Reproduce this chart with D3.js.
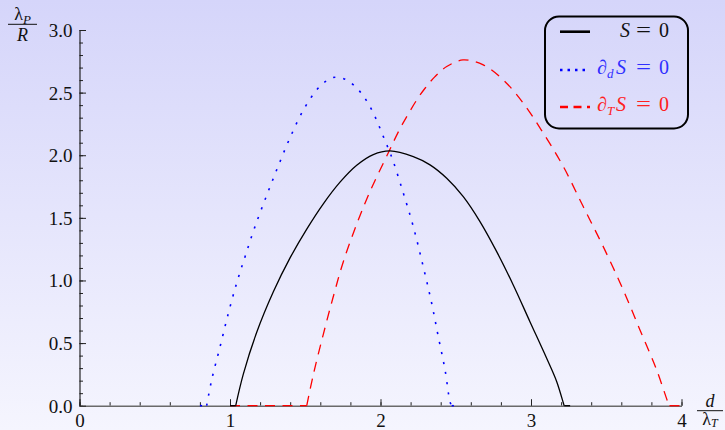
<!DOCTYPE html>
<html>
<head>
<meta charset="utf-8">
<script src="https://cdn.jsdelivr.net/npm/d3@7"></script>
<style>
  html, body { margin: 0; padding: 0; background: #ffffff; }
  svg { display: block; }
  text { font-family: "Liberation Serif", "DejaVu Serif", serif; }
</style>
</head>
<body>
<svg id="chart" width="725" height="430"></svg>
<script>
// Stability boundaries in the (d/λT, λP/R) plane.
// Each curve is a list of [d/λT, λP/R] samples.
const curveS = [
  [1.00, 0], [1.038, 0], [1.088, 0.250], [1.177, 0.585], [1.288, 0.910], [1.399, 1.180],
  [1.510, 1.410], [1.620, 1.612], [1.731, 1.785], [1.842, 1.920], [1.952, 2.005],
  [2.063, 2.034], [2.218, 1.989], [2.329, 1.923], [2.440, 1.816], [2.550, 1.669],
  [2.661, 1.470], [2.772, 1.230], [2.882, 0.964], [2.993, 0.671], [3.104, 0.379],
  [3.171, 0.192], [3.219, 0.006], [3.221, 0], [3.26, 0]
];
const curveDd = [
  [0.80, 0], [0.845, 0], [0.878, 0.205], [0.934, 0.471], [0.989, 0.738], [1.044, 0.978],
  [1.100, 1.190], [1.166, 1.430], [1.244, 1.680], [1.321, 1.915], [1.399, 2.140],
  [1.487, 2.360], [1.576, 2.522], [1.643, 2.596], [1.698, 2.623], [1.775, 2.601],
  [1.864, 2.508], [1.942, 2.362], [2.019, 2.149], [2.058, 2.035], [2.085, 1.950],
  [2.152, 1.696], [2.218, 1.430], [2.284, 1.110], [2.340, 0.818], [2.384, 0.551],
  [2.429, 0.285], [2.462, 0.030], [2.473, 0], [2.50, 0]
];
const curveDT = [
  [1.00, 0], [1.510, 0], [1.554, 0.250], [1.620, 0.570], [1.686, 0.870], [1.753, 1.150],
  [1.842, 1.450], [1.930, 1.710], [2.052, 2.020], [2.125, 2.202], [2.181, 2.322],
  [2.241, 2.442], [2.296, 2.535], [2.362, 2.628], [2.440, 2.708], [2.548, 2.761],
  [2.683, 2.721], [2.816, 2.601], [2.949, 2.415], [3.082, 2.176], [3.215, 1.909],
  [3.347, 1.590], [3.480, 1.270], [3.613, 0.924], [3.724, 0.605], [3.835, 0.285],
  [3.912, 0.020], [3.92, 0], [4.00, 0]
];

const xMajorTicks = [0, 1, 2, 3, 4];
const yMajorTicks = [0, 0.5, 1.0, 1.5, 2.0, 2.5, 3.0];
const xTickLabels = ["0", "1", "2", "3", "4"];
const yTickLabels = ["0.0", "0.5", "1.0", "1.5", "2.0", "2.5", "3.0"];
const xMinorTicks = d3.range(0, 4.0001, 0.2).map(v => +v.toFixed(2));
const yMinorTicks = d3.range(0, 3.0001, 0.1).map(v => +v.toFixed(2));

const svg = d3.select("#chart");
const W = 725, H = 430;

// background wash
const defs = svg.append("defs");
const grad = defs.append("linearGradient")
  .attr("id", "bg").attr("x1", 0).attr("y1", 0).attr("x2", 0).attr("y2", 1);
grad.append("stop").attr("offset", "0%").attr("stop-color", "#d5d5fa");
grad.append("stop").attr("offset", "100%").attr("stop-color", "#f5f5fe");
svg.append("rect").attr("width", W).attr("height", H).attr("fill", "url(#bg)");

const x = d3.scaleLinear().domain([0, 4]).range([79.5, 681.5]);
const y = d3.scaleLinear().domain([0, 3]).range([405.7, 30]);

// minor ticks (inward)
svg.append("g")
  .attr("transform", `translate(0,${y(0)})`)
  .call(d3.axisBottom(x).tickValues(xMinorTicks).tickSize(-3.5).tickFormat("").tickSizeOuter(0))
  .call(g => g.select(".domain").remove())
  .call(g => g.selectAll("line").attr("stroke", "#222").attr("stroke-width", 1));
svg.append("g")
  .attr("transform", `translate(${x(0)},0)`)
  .call(d3.axisLeft(y).tickValues(yMinorTicks).tickSize(-3.5).tickFormat("").tickSizeOuter(0))
  .call(g => g.select(".domain").remove())
  .call(g => g.selectAll("line").attr("stroke", "#222").attr("stroke-width", 1));

// major ticks and labels
const xAxis = svg.append("g")
  .attr("transform", `translate(0,${y(0)})`)
  .call(d3.axisBottom(x).tickValues(xMajorTicks).tickSize(-6.5).tickSizeOuter(0)
    .tickPadding(0).tickFormat((d, i) => xTickLabels[i]));
xAxis.select(".domain").attr("stroke", "#6a6a6a").attr("stroke-width", 1.6);
xAxis.selectAll("line").attr("stroke", "#222").attr("stroke-width", 1);
xAxis.selectAll("text").attr("font-size", 19).attr("fill", "#111")
  .attr("font-family", "Liberation Serif, serif").attr("y", 21.3).attr("dy", null);

const yAxis = svg.append("g")
  .attr("transform", `translate(${x(0)},0)`)
  .call(d3.axisLeft(y).tickValues(yMajorTicks).tickSize(-6.5).tickSizeOuter(0)
    .tickPadding(7).tickFormat((d, i) => yTickLabels[i]));
yAxis.select(".domain").attr("stroke", "#111").attr("stroke-width", 1.1);
yAxis.selectAll("line").attr("stroke", "#222").attr("stroke-width", 1);
yAxis.selectAll("text").attr("font-size", 19).attr("fill", "#111")
  .attr("font-family", "Liberation Serif, serif").attr("dy", "0.34em");

// curves: flat runs along the axis are straight, the arch is smoothed
const straight = d3.line().x(d => x(d[0])).y(d => y(d[1]));
const smooth = d3.line().x(d => x(d[0])).y(d => y(d[1])).curve(d3.curveCatmullRom.alpha(0.5));
function drawCurve(data, style) {
  const first = data.findIndex(d => d[1] > 0) - 1;
  let last = data.length - 1;
  while (data[last][1] === 0) last--;
  last += 1;
  const pieces = [
    {pts: data.slice(0, first + 1), gen: straight},
    {pts: data.slice(first, last + 1), gen: smooth},
    {pts: data.slice(last), gen: straight}
  ];
  pieces.filter(p => p.pts.length > 1).forEach(p => {
    svg.append("path").datum(p.pts).attr("d", p.gen).attr("fill", "none")
      .attr("stroke", style.color).attr("stroke-width", style.width)
      .attr("stroke-dasharray", style.dash);
  });
}
drawCurve(curveDd, {color: "#0000ff", width: 1.6, dash: "2.2,8"});
drawCurve(curveDT, {color: "#ff0000", width: 1.3, dash: "10,7.5"});
drawCurve(curveS, {color: "#000000", width: 1.3, dash: null});

// axis titles as stacked fractions
function fraction(cx, barY, topParts, bottomParts, width, botGap, subDrop) {
  const g = svg.append("g");
  const top = g.append("text").attr("x", cx).attr("y", barY - 4)
    .attr("text-anchor", "middle").attr("font-size", 18).attr("fill", "#111");
  topParts.forEach(p => {
    const t = top.append("tspan").text(p.t).attr("font-style", p.i ? "italic" : "normal");
    if (p.sub) t.attr("font-size", 13).attr("dy", 3.5);
  });
  g.append("line").attr("x1", cx - width / 2).attr("x2", cx + width / 2)
    .attr("y1", barY).attr("y2", barY).attr("stroke", "#111").attr("stroke-width", 1);
  const bot = g.append("text").attr("x", cx).attr("y", barY + botGap)
    .attr("text-anchor", "middle").attr("font-size", 18).attr("fill", "#111");
  bottomParts.forEach(p => {
    const t = bot.append("tspan").text(p.t).attr("font-style", p.i ? "italic" : "normal");
    if (p.sub) t.attr("font-size", 12).attr("dy", subDrop);
  });
}
fraction(22.5, 24.3, [{t: "λ"}, {t: "P", i: true, sub: true}], [{t: "R", i: true}], 29, 17, 3);
fraction(710, 410.7, [{t: "d", i: true}], [{t: "λ"}, {t: "T", i: true, sub: true}], 26, 14.5, 1.5);

// legend
const legendItems = [
  {color: "#000000", dash: null, width: 2.6, sym: "", sub: "", textColor: "#111111"},
  {color: "#0000ff", dash: "2.5,5", width: 2.6, sym: "∂", sub: "d", textColor: "#2f2fff"},
  {color: "#ff0000", dash: "8,5.5", width: 2.6, sym: "∂", sub: "T", textColor: "#ff2020"}
];
const legendRowY = [31.7, 70, 107];
const legendBaseY = [37, 74, 111];

const lg = svg.append("g");
lg.append("rect").attr("x", 545).attr("y", 16.5).attr("width", 143).attr("height", 112)
  .attr("rx", 14).attr("ry", 14).attr("fill", "none")
  .attr("stroke", "#000").attr("stroke-width", 2);

legendItems.forEach((it, i) => {
  lg.append("line").attr("x1", 560).attr("x2", 590)
    .attr("y1", legendRowY[i]).attr("y2", legendRowY[i])
    .attr("stroke", it.color).attr("stroke-width", it.width)
    .attr("stroke-dasharray", it.dash);
  const t = lg.append("text").attr("y", legendBaseY[i]).attr("font-size", 20)
    .attr("fill", it.textColor);
  if (it.sym) {
    t.append("tspan").attr("x", 597).attr("font-style", "italic").text(it.sym);
    t.append("tspan").attr("font-style", "italic").attr("font-size", 13).attr("dy", 4).text(it.sub);
    t.append("tspan").attr("x", 616).attr("dy", -4).attr("font-style", "italic").text("S");
  } else {
    t.append("tspan").attr("x", 620).attr("font-style", "italic").text("S");
  }
  t.append("tspan").attr("x", 636).attr("textLength", 15)
    .attr("lengthAdjust", "spacingAndGlyphs").text("=");
  t.append("tspan").attr("x", 659).text("0");
});
</script>
</body>
</html>
